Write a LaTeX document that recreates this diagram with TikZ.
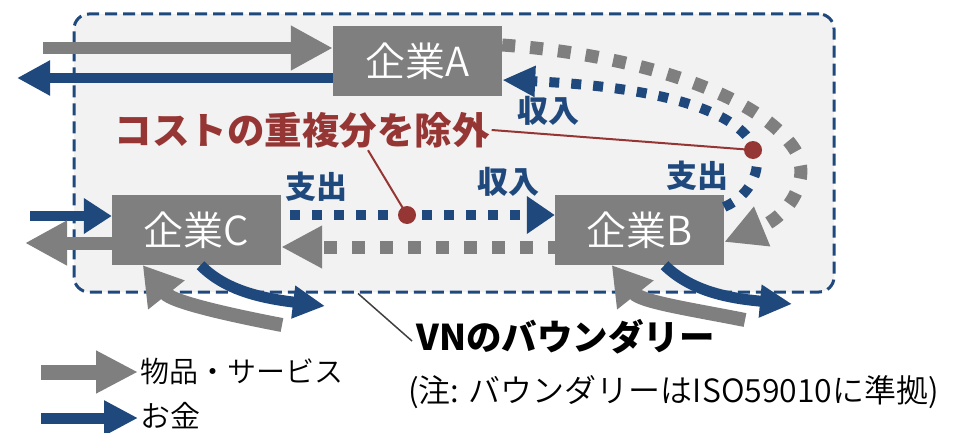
\documentclass[tikz,border=0pt]{standalone}
\usepackage{fontspec}
\setmainfont{Noto Sans CJK JP}
\newfontfamily\thincjk{Noto Sans CJK JP}[UprightFont=* DemiLight]
\usetikzlibrary{arrows.meta}
\definecolor{navy}{RGB}{31,73,125}
\definecolor{mgray}{RGB}{127,127,127}
\definecolor{bgfill}{RGB}{242,242,242}
\definecolor{dred}{RGB}{150,54,52}
\tikzset{
  firm/.style={fill=mgray, text=white, minimum width=169pt, minimum height=70pt, inner sep=0pt, font=\thincjk\fontsize{40}{40}\selectfont},
  garrow/.style={draw=mgray, line width=13pt, -{Triangle[length=42pt,width=42pt]}, mgray},
  barrow/.style={draw=navy, line width=10pt, -{Triangle[length=33pt,width=33pt]}, navy},
  gdots/.style={draw=mgray, line width=13pt, dash pattern=on 13pt off 15pt, -{Triangle[length=41pt,width=40pt]}, mgray},
  bdots/.style={draw=navy, line width=10pt, dash pattern=on 10pt off 12pt, -{Triangle[length=28pt,width=36pt]}, navy},
  bluelab/.style={text=navy, font=\fontsize{31}{31}\selectfont\bfseries, inner sep=1pt},
  redline/.style={draw=dred, line width=2pt},
  reddot/.style={circle, fill=dred, minimum size=18pt, inner sep=0pt},
}
\begin{document}
\begin{tikzpicture}[x=1pt,y=-1pt]
\useasboundingbox (0,0) rectangle (957,433);
% boundary
\node[draw=navy, line width=3pt, dash pattern=on 12pt off 6pt, fill=bgfill, rounded corners=15pt,
      minimum width=760pt, minimum height=278pt, inner sep=0pt] (vn) at (454,153) {};
% firms
\node[firm] (A) at (417.5,61) {企業A};
\node[firm] (C) at (196.5,230) {企業C};
\node[firm] (B) at (639.5,230) {企業B};
% outer flows of A
\coordinate (ginA) at (43,48);
\coordinate (boutA) at (17,78);
\draw[garrow, line width=12pt] (ginA) -- ([yshift=13pt]A.west);
\draw[barrow] ([yshift=-17pt]A.west) -- (boutA);
% outer flows of C
\coordinate (binC) at (30,216);
\coordinate (goutC) at (25,243);
\draw[barrow, -{Triangle[length=28pt,width=34pt]}] (binC) -- ([yshift=14pt]C.west);
\draw[garrow] ([yshift=-13pt]C.west) -- (goutC);
% dotted flows between C and B
\draw[bdots, dash phase=13pt] ([yshift=15pt]C.east) -- ([yshift=15pt]B.west);
\draw[gdots, dash phase=6pt] ([yshift=-17pt]B.west) -- ([yshift=-17pt]C.east);
% arcs between A and B
\draw[gdots] ([yshift=16pt]A.east) .. controls (640,55) and (760,95) .. (795,150)
   .. controls (812,178) and (790,215) .. ([yshift=-12pt]B.east);
\draw[bdots, -{Triangle[length=33pt,width=29pt]}] ([yshift=23pt]B.east) .. controls (752,195) and (765,165) .. (752,143)
   .. controls (725,100) and (620,85) .. ([yshift=-19pt]A.east);
% bottom arcs of C
\coordinate (bC) at (325,306);
\coordinate (gC) at (282,325);
\draw[barrow, line width=11pt, -{Triangle[length=32pt,width=31pt]}] ([xshift=4pt]C.south) .. controls (225,290) and (260,298) .. (bC);
\draw[garrow, line width=14pt, -{Triangle[length=38pt,width=44pt]}] (gC) .. controls (230,315) and (172,302) .. ([xshift=31pt]C.south west);
% bottom arcs of B
\coordinate (bB) at (792,304);
\coordinate (gB) at (745,320);
\draw[barrow, line width=11pt, -{Triangle[length=32pt,width=31pt]}] ([xshift=25pt]B.south) .. controls (690,290) and (725,298) .. (bB);
\draw[garrow, line width=14pt, -{Triangle[length=38pt,width=44pt]}] (gB) .. controls (695,310) and (641,302) .. ([xshift=57pt]B.south west);
% labels
\node[bluelab] (l1) at (548,111) {収入};
\node[bluelab] (l2) at (697,176) {支出};
\node[bluelab] (l3) at (316,187) {支出};
\node[bluelab] (l4) at (508,182) {収入};
% duplicate cost
\node[text=dred, font=\fontsize{37.5}{37.5}\selectfont\bfseries, inner sep=2pt] (dup) at (302,130) {コストの重複分を除外};
\coordinate (d1) at (407,215);
\coordinate (d2) at (753,150);
\draw[redline] ([xshift=66pt]dup.south) -- (d1);
\draw[redline] (dup.east) -- (d2);
\node[reddot] (dot1) at (d1) {};
\node[reddot] (dot2) at (d2) {};
% boundary label
\node[anchor=west, font=\fontsize{35.5}{35.5}\selectfont\bfseries, inner sep=4pt] (vnl) at (412,337) {VNのバウンダリー};
\draw[draw=black!75, line width=1.5pt] ([xshift=-96pt]vn.south) -- ([yshift=-4pt]vnl.west);
\node[anchor=west, font=\thincjk\fontsize{32}{32}\selectfont, inner sep=0pt] (note) at (408,392) {(注: バウンダリーはISO59010に準拠)};
% legend
\node[anchor=west, font=\thincjk\fontsize{29}{29}\selectfont, inner sep=2pt] (lg1t) at (138,371) {物品・サービス};
\node[anchor=west, font=\thincjk\fontsize{30}{30}\selectfont, inner sep=2pt] (lg2t) at (138,416) {お金};
\coordinate (lg1) at (41,372);
\coordinate (lg2) at (41,418);
\draw[garrow, line width=15pt, -{Triangle[length=42pt,width=40pt]}] (lg1) -- (lg1t.west |- lg1);
\draw[barrow, line width=11pt, -{Triangle[length=34pt,width=33pt]}] (lg2) -- (lg2t.west |- lg2);
\end{tikzpicture}
\end{document}
